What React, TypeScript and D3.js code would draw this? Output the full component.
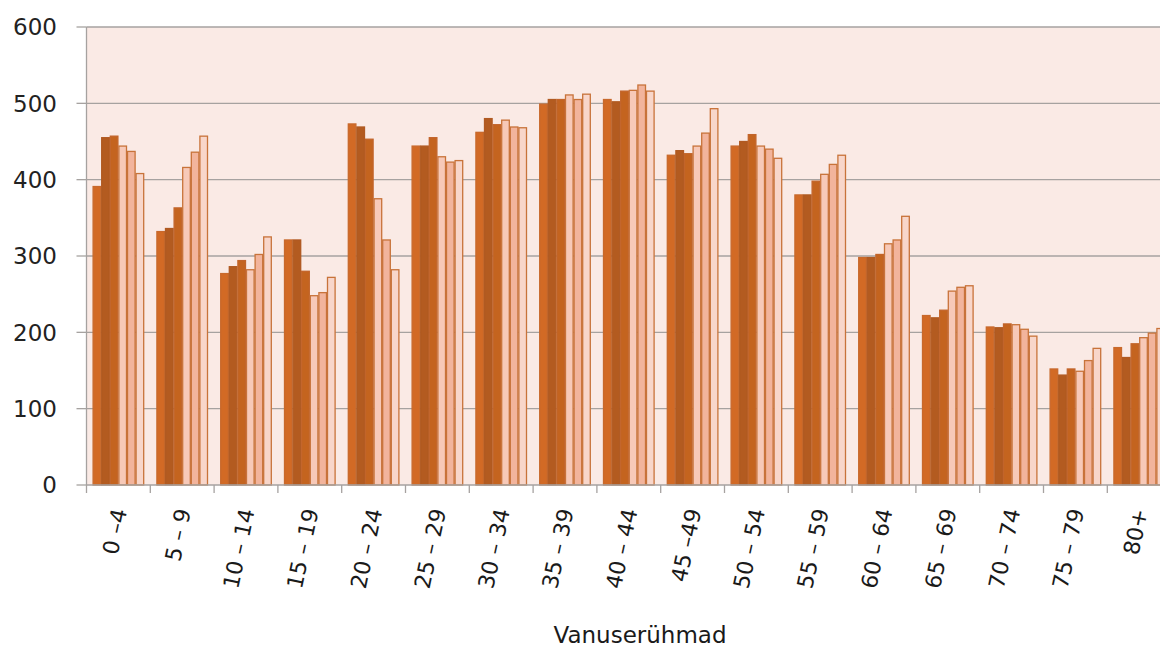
import React from "react";
import * as d3 from "d3";

const categories = ["0 –4", "5 – 9", "10 – 14", "15 – 19", "20 – 24", "25 – 29", "30 – 34", "35 – 39", "40 – 44", "45 –49", "50 – 54", "55 – 59", "60 – 64", "65 – 69", "70 – 74", "75 – 79", "80+"];

const series1 = [391, 332, 277, 321, 473, 444, 462, 499, 505, 432, 444, 380, 298, 222, 207, 152, 180];
const series2 = [455, 336, 286, 321, 469, 444, 480, 505, 502, 438, 450, 380, 298, 219, 206, 144, 167];
const series3 = [457, 363, 294, 280, 453, 455, 472, 505, 516, 434, 459, 398, 302, 229, 211, 152, 185];
const series4 = [444, 416, 282, 248, 375, 430, 478, 511, 517, 444, 444, 407, 316, 254, 210, 149, 193];
const series5 = [437, 436, 302, 252, 321, 423, 469, 505, 524, 461, 440, 420, 321, 259, 204, 163, 199];
const series6 = [408, 457, 325, 272, 282, 425, 468, 512, 516, 493, 428, 432, 352, 261, 195, 179, 205];

const seriesNames = ["s1", "s2", "s3", "s4", "s5", "s6"];
const seriesData = [series1, series2, series3, series4, series5, series6];
const seriesColors = ["#D26A25", "#B35B20", "#C4641F", "#F7C9B8", "#F2B49C", "#F8D6CA"];
const seriesStrokes = ["#C8692C", "#B05A22", "#C2642A", "#C8733A", "#C8733A", "#C8733A"];

const yTicks = [0, 100, 200, 300, 400, 500, 600];

export default function App() {
  const W = 1160;
  const H = 648;
  const left = 86.5;
  const top = 27;
  const bottom = 485;
  const step = 63.8;
  const right = left + step * categories.length;

  const x0 = d3.scaleBand<string>().domain(categories).range([left, right]).paddingInner(0).paddingOuter(0);
  const groupPad = (step - 51.6) / 2;
  const x1 = d3.scaleBand<string>().domain(seriesNames).range([groupPad, step - groupPad]).padding(0);
  const y = d3.scaleLinear().domain([0, 600]).range([bottom, top]);

  const font = "'DejaVu Sans', sans-serif";

  return (
    <svg width={W} height={H} style={{ position: "absolute", left: 0, top: 0, background: "#fff" }}>
      <rect x={left} y={top} width={right - left} height={bottom - top} fill="#FAEAE5" />
      {yTicks.map((t) => (
        <g key={t}>
          {t > 0 && <line x1={left} x2={right} y1={y(t)} y2={y(t)} stroke="#A6A2A0" strokeWidth={1.3} />}
          <line x1={left - 10} x2={left} y1={y(t)} y2={y(t)} stroke="#A6A2A0" strokeWidth={1.3} />
          <text x={57} y={y(t)} dy="0.36em" textAnchor="end" fontFamily={font} fontSize={23} fill="#222">
            {t}
          </text>
        </g>
      ))}
      {categories.map((c, i) => (
        <g key={c}>
          {seriesData.map((s, j) => {
            const bx = (x0(c) as number) + (x1(seriesNames[j]) as number);
            return (
              <rect
                key={j}
                x={bx + 0.5}
                y={y(s[i])}
                width={x1.bandwidth() - 1}
                height={bottom - y(s[i])}
                fill={seriesColors[j]}
                stroke={seriesStrokes[j]}
                strokeWidth={1.3}
              />
            );
          })}
        </g>
      ))}
      <line x1={left} x2={left} y1={top} y2={bottom} stroke="#A6A2A0" strokeWidth={1.3} />
      <line x1={left} x2={right} y1={bottom} y2={bottom} stroke="#A6A2A0" strokeWidth={1.3} />
      {categories.map((c, i) => (
        <line key={"t" + i} x1={(x0(c) as number) + step} x2={(x0(c) as number) + step} y1={bottom} y2={bottom + 8} stroke="#A6A2A0" strokeWidth={1.3} />
      ))}
      <line x1={left} x2={left} y1={bottom} y2={bottom + 8} stroke="#A6A2A0" strokeWidth={1.3} />
      {categories.map((c) => {
        const cx = (x0(c) as number) + step / 2;
        return (
          <text
            key={"l" + c}
            transform={`translate(${cx + 1},${509}) rotate(-78)`}
            textAnchor="end"
            dy="0.36em"
            fontFamily={font}
            fontSize={22}
            fill="#1a1a1a"
          >
            {c}
          </text>
        );
      })}
      <text x={640} y={643} textAnchor="middle" fontFamily={font} fontSize={23} fill="#1a1a1a">
        Vanuserühmad
      </text>
    </svg>
  );
}
